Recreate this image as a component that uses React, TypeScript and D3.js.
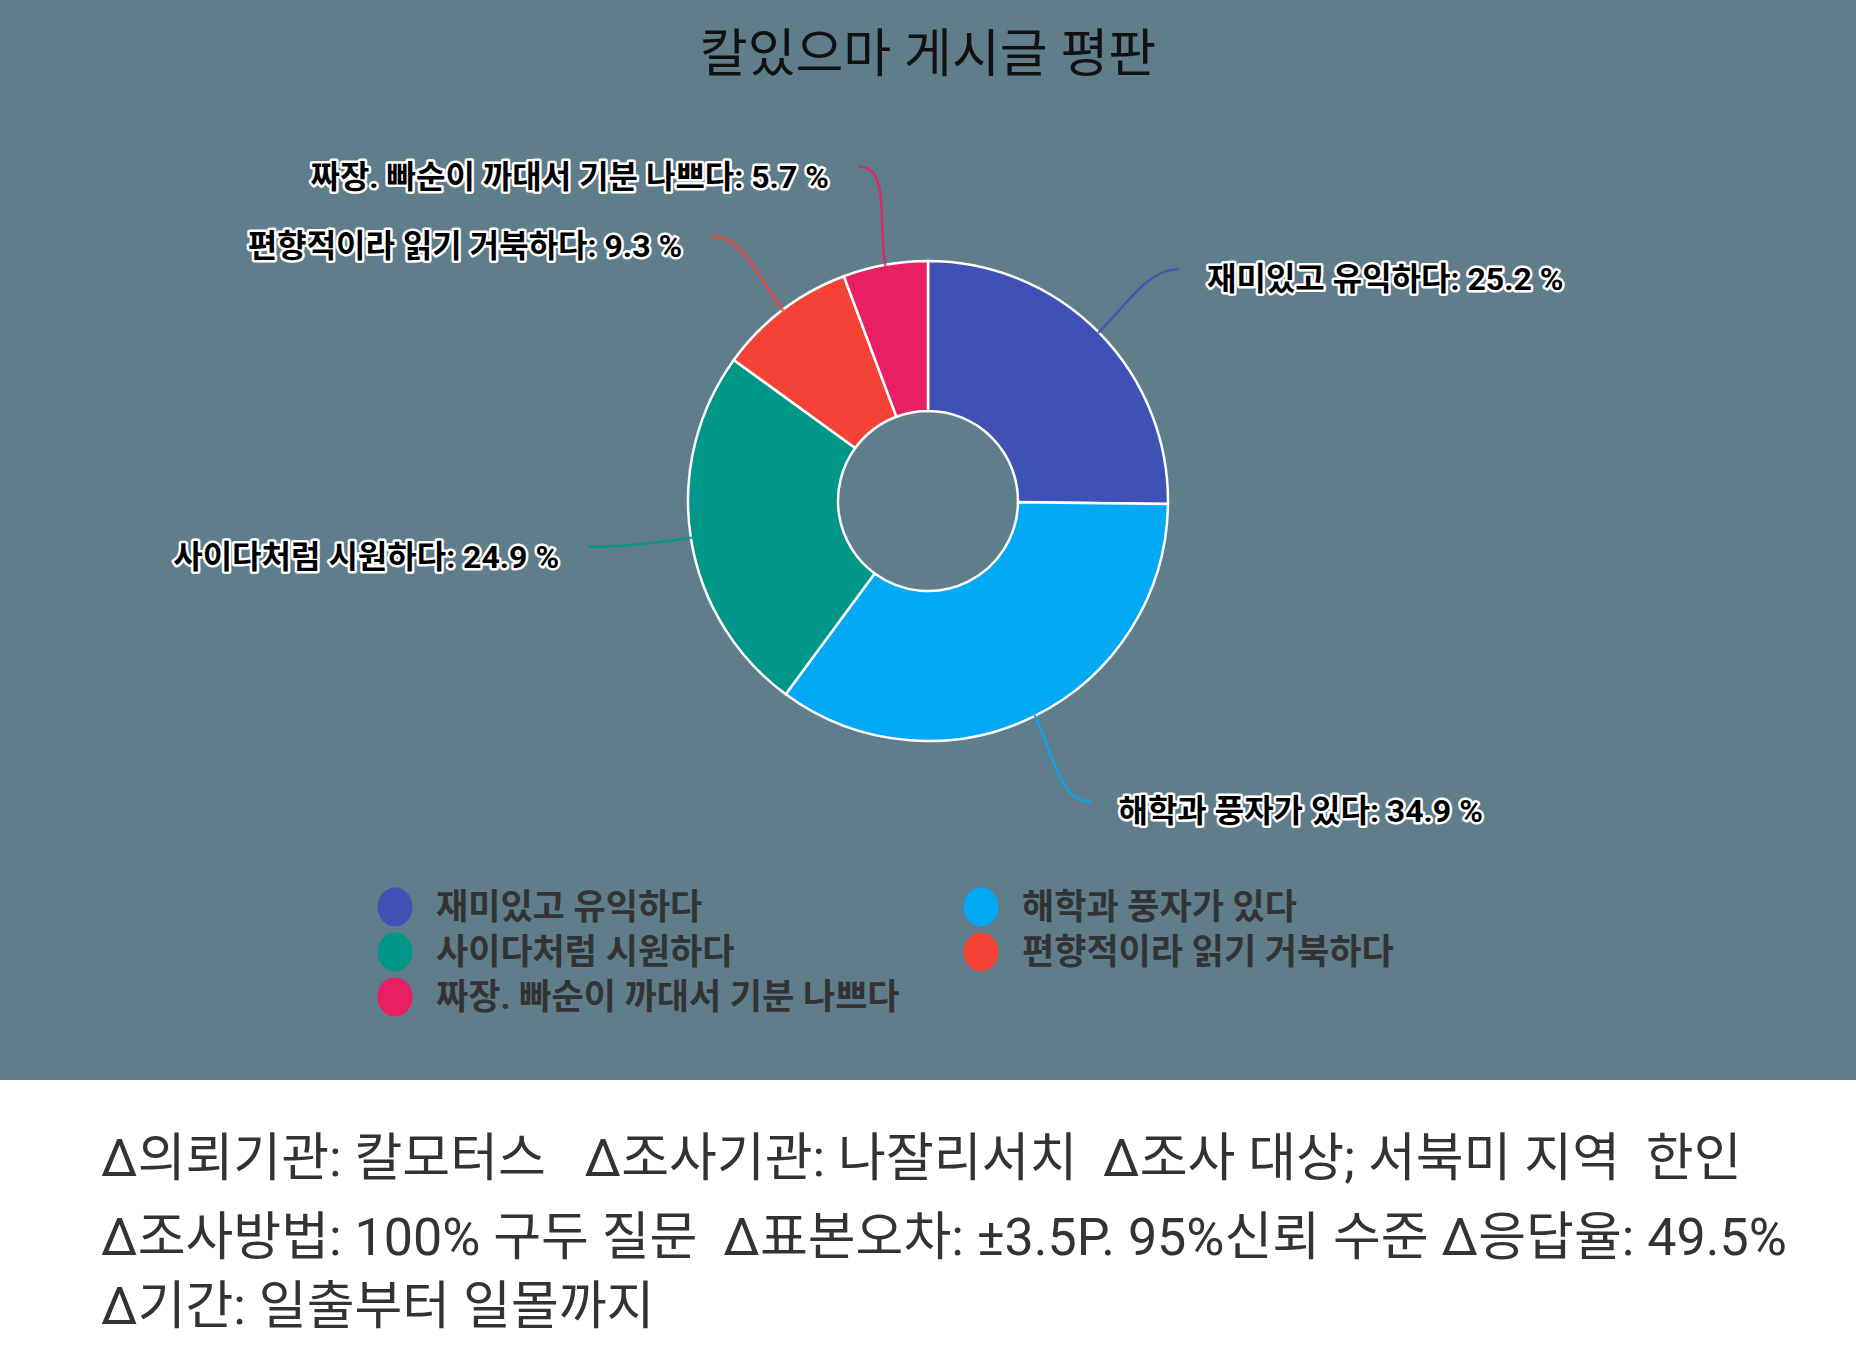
import React from "react";
import * as d3 from "d3";

const title = "칼있으마 게시글 평판";
const categories = [
  "재미있고 유익하다",
  "해학과 풍자가 있다",
  "사이다처럼 시원하다",
  "편향적이라 읽기 거북하다",
  "짜장. 빠순이 까대서 기분 나쁘다",
];
const values = [25.2, 34.9, 24.9, 9.3, 5.7];
const colors = ["#3f51b5", "#03a9f4", "#009688", "#f44336", "#e91e63"];
const footerLines = [
  "Δ의뢰기관: 칼모터스   Δ조사기관: 나잘리서치  Δ조사 대상; 서북미 지역  한인",
  "Δ조사방법: 100% 구두 질문  Δ표본오차: ±3.5P. 95%신뢰 수준 Δ응답율: 49.5%",
  "Δ기간: 일출부터 일몰까지",
];

const W = 1856;
const H = 1359;
const PANEL_H = 1080;
const CX = 928;
const CY = 501;
const R_OUT = 240;
const R_IN = 90;
const LABEL_R = 341;
const SPREAD = (1.8 * Math.PI) / 180;
const FONT = "Roboto, 'Noto Sans CJK KR', sans-serif";

type Datum = { name: string; value: number; color: string };

export default function App() {
  const data: Datum[] = categories.map((c, i) => ({ name: c, value: values[i], color: colors[i] }));
  const pie = d3.pie<Datum>().sort(null).value((d) => d.value).startAngle(0).endAngle(2 * Math.PI);
  const arcs = pie(data);
  const arcGen = d3.arc<d3.PieArcDatum<Datum>>().innerRadius(R_IN).outerRadius(R_OUT);

  const legendCols = [395, 981];
  const legendTextOff = 41;
  const legendRow0 = 907;
  const legendRowStep = 45;

  return (
    <div>
      <style>{"body{margin:0;}"}</style>
      <svg width={W} height={H} style={{ display: "block" }} fontFamily={FONT}>
        <rect x={0} y={0} width={W} height={H} fill="#ffffff" />
        <rect x={0} y={0} width={W} height={PANEL_H} fill="#607d8b" />
        <text
          x={CX}
          y={54}
          textAnchor="middle"
          dominantBaseline="central"
          fontSize={52}
          fill="#111111"
          style={{ whiteSpace: "pre" }}
        >
          {title}
        </text>

        <g transform={`translate(${CX},${CY})`}>
          {arcs.map((a, i) => (
            <path key={i} d={arcGen(a) || ""} fill={a.data.color} stroke="#ffffff" strokeWidth={2.5} />
          ))}
        </g>

        {arcs.map((a, i) => {
          const mid = (a.startAngle + a.endAngle) / 2;
          const sx = CX + R_OUT * Math.sin(mid);
          const sy = CY - R_OUT * Math.cos(mid);
          const sc = Math.sin(mid) * Math.cos(mid);
          const lab = mid + SPREAD * Math.sign(sc) * Math.min(1, Math.abs(sc) * 4);
          const ex = CX + LABEL_R * Math.sin(lab);
          const ey = CY - LABEL_R * Math.cos(lab);
          const right = Math.sin(mid) > 0;
          const c1x = CX + (R_OUT + 40) * Math.sin(mid);
          const c1y = CY - (R_OUT + 40) * Math.cos(mid);
          const c2x = ex + (right ? -30 : 30);
          const c2y = ey;
          const path = d3.path();
          path.moveTo(sx, sy);
          path.bezierCurveTo(c1x, c1y, c2x, c2y, ex, ey);
          const tx = ex + (right ? 29 : -31);
          const ty = ey + 10;
          return (
            <g key={i}>
              <path
                d={path.toString()}
                fill="none"
                stroke={a.data.color}
                strokeOpacity={0.85}
                strokeWidth={2.5}
                strokeLinecap="round"
              />
              <text
                x={tx}
                y={ty}
                textAnchor={right ? "start" : "end"}
                dominantBaseline="central"
                fontSize={32}
                fontWeight="bold"
                fill="#000000"
                stroke="#ffffff"
                strokeWidth={5}
                strokeLinejoin="round"
                paintOrder="stroke"
                style={{ whiteSpace: "pre" }}
              >
                {`${a.data.name}: ${d3.format(".1f")(a.data.value)} %`}
              </text>
            </g>
          );
        })}

        {data.map((d, i) => {
          const col = i % 2;
          const row = Math.floor(i / 2);
          const x = legendCols[col];
          const y = legendRow0 + row * legendRowStep;
          return (
            <g key={i}>
              <ellipse cx={x} cy={y} rx={17.5} ry={19.5} fill={d.color} />
              <text
                x={x + legendTextOff}
                y={y}
                dominantBaseline="central"
                fontSize={35}
                fontWeight="bold"
                fill="#333333"
                style={{ whiteSpace: "pre" }}
              >
                {d.name}
              </text>
            </g>
          );
        })}

        {footerLines.map((line, i) => (
          <text
            key={i}
            x={101}
            y={[1158, 1237, 1306][i]}
            dominantBaseline="central"
            fontSize={52}
            fill="#333333"
            style={{ whiteSpace: "pre" }}
          >
            {line}
          </text>
        ))}
      </svg>
    </div>
  );
}
